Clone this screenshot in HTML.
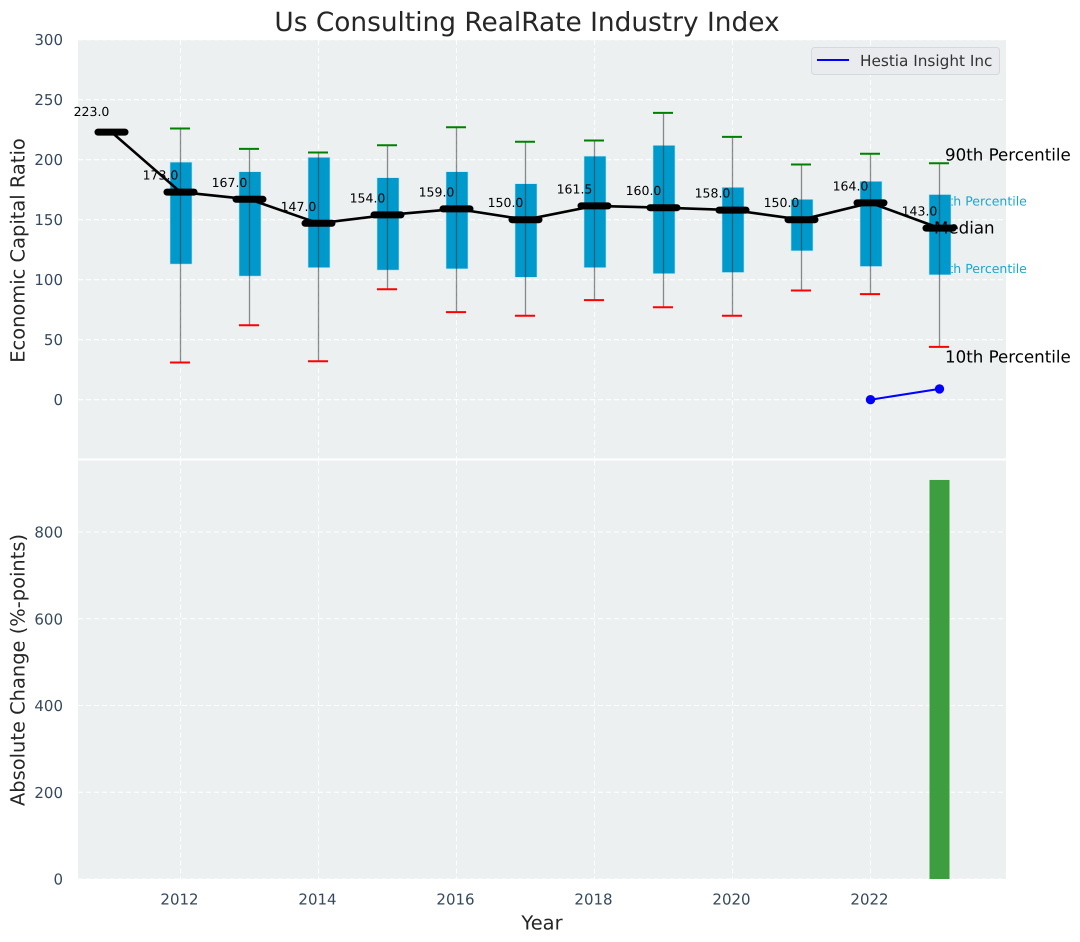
<!DOCTYPE html>
<html>
<head>
<meta charset="utf-8">
<title>Us Consulting RealRate Industry Index</title>
<style>
html,body{margin:0;padding:0;background:#fff;width:1080px;height:942px;overflow:hidden}
svg{display:block;font-family:"DejaVu Sans","Liberation Sans",sans-serif;text-rendering:geometricPrecision}
</style>
</head>
<body>
<svg id="chart" width="1080" height="942" viewBox="0 0 1080 942" xmlns="http://www.w3.org/2000/svg"></svg>
<script>
const boxYears = [2012,2013,2014,2015,2016,2017,2018,2019,2020,2021,2022,2023];
const p90 = [226,209,206,212,227,215,216,239,219,196,205,197];
const p75 = [198,190,202,185,190,180,203,212,177,167,182,171];
const p25 = [113,103,110,108,109,102,110,105,106,124,111,104];
const p10 = [31,62,32,92,73,70,83,77,70,91,88,44];
const medianYears = [2011,2012,2013,2014,2015,2016,2017,2018,2019,2020,2021,2022,2023];
const medianValues = [223,173,167,147,154,159,150,161.5,160,158,150,164,143];
const medianLabels = ["223.0","173.0","167.0","147.0","154.0","159.0","150.0","161.5","160.0","158.0","150.0","164.0","143.0"];
const hestiaYears = [2022,2023];
const hestiaValues = [0,9];
const changeYears = [2023];
const changeValues = [920];
const xTicks = [2012,2014,2016,2018,2020,2022];
const topTicks = [0,50,100,150,200,250,300];
const bottomTicks = [0,200,400,600,800];

const NS = 'http://www.w3.org/2000/svg';
const svg = document.getElementById('chart');
const PLOT_LEFT = 78, PLOT_RIGHT = 1006, TOP_Y0 = 40, TOP_Y1 = 458.5, BOT_Y0 = 460.5, BOT_Y1 = 879;
const x = v => 180.5 + (v - 2012) * 69;
const yTop = v => 399.7 - v * 1.2;
const yBot = v => 879 - v * 0.43375;

function make(tag, attrs, parent) {
  const el = document.createElementNS(NS, tag);
  for (const k in attrs) el.setAttribute(k, attrs[k]);
  (parent || svg).appendChild(el);
  return el;
}
function makeText(str, attrs, parent) {
  const el = make('text', attrs, parent);
  el.textContent = str;
  return el;
}

/* plot backgrounds */
const topBg = make('rect', {x:PLOT_LEFT, y:TOP_Y0, width:PLOT_RIGHT-PLOT_LEFT, height:TOP_Y1-TOP_Y0, fill:'#ecf0f1'});


const botBg = make('rect', {x:PLOT_LEFT, y:BOT_Y0, width:PLOT_RIGHT-PLOT_LEFT, height:BOT_Y1-BOT_Y0, fill:'#ecf0f1'});



/* gridlines */
const gridStyle = {stroke:'#ffffff', 'stroke-width':1.1, 'stroke-dasharray':'5 3', fill:'none'};
topTicks.forEach(t => {
  const g = make('line', Object.assign({x1:PLOT_LEFT, x2:PLOT_RIGHT, y1:yTop(t), y2:yTop(t)}, gridStyle));
  
  
});
bottomTicks.forEach(t => {
  const g = make('line', Object.assign({x1:PLOT_LEFT, x2:PLOT_RIGHT, y1:yBot(t), y2:yBot(t)}, gridStyle));
  
  
});
xTicks.forEach(t => {
  const g1 = make('line', Object.assign({x1:x(t), x2:x(t), y1:TOP_Y0, y2:TOP_Y1}, gridStyle));
  
  
  const g2 = make('line', Object.assign({x1:x(t), x2:x(t), y1:BOT_Y0, y2:BOT_Y1}, gridStyle));
  
  
});

/* percentile annotations that sit behind the boxes */
const lastYear = boxYears.length - 1;
const p75Label = makeText('75th Percentile', {x:x(boxYears[lastYear])-7, y:yTop(p75[lastYear])+11, 'font-size':12.5, fill:'#1aa6d0'});


const p25Label = makeText('25th Percentile', {x:x(boxYears[lastYear])-7, y:yTop(p25[lastYear])-2, 'font-size':12.5, fill:'#1aa6d0'});



/* boxes and whiskers */
boxYears.forEach((yr, i) => {
  const b = make('rect', {x:x(yr)-10.5, y:yTop(p75[i]), width:22, height:yTop(p25[i])-yTop(p75[i]), fill:'#0099cc', stroke:'#bfe6f2', 'stroke-width':0.6});
  
  
  const w = make('line', {x1:x(yr), x2:x(yr), y1:yTop(p90[i]), y2:yTop(p10[i]), stroke:'#333333', 'stroke-opacity':0.55, 'stroke-width':1.3});
  
  
  const hi = make('line', {x1:x(yr)-10.5, x2:x(yr)+9.5, y1:yTop(p90[i]), y2:yTop(p90[i]), stroke:'#008000', 'stroke-width':2});
  
  
  const lo = make('line', {x1:x(yr)-10.5, x2:x(yr)+9.5, y1:yTop(p10[i]), y2:yTop(p10[i]), stroke:'#ff0000', 'stroke-width':2});
  
  
});

/* median line */
const medLine = make('polyline', {points:medianYears.map((yr,i)=>x(yr)+','+yTop(medianValues[i])).join(' '), fill:'none', stroke:'#000000', 'stroke-width':2.6, 'stroke-linejoin':'round'});


medianYears.forEach((yr, i) => {
  const m = make('line', {x1:x(yr)-13.5, x2:x(yr)+13.5, y1:yTop(medianValues[i]), y2:yTop(medianValues[i]), stroke:'#000000', 'stroke-width':7, 'stroke-linecap':'round'});
  
  
  const t = makeText(medianLabels[i], {x:x(yr)-20, y:yTop(medianValues[i])-(i===0?16:12.5), 'font-size':12.5, fill:'#000000', 'text-anchor':'middle'});
  
  
});

/* Hestia Insight series */
const hLine = make('polyline', {points:hestiaYears.map((yr,i)=>x(yr)+','+yTop(hestiaValues[i])).join(' '), fill:'none', stroke:'#0000ff', 'stroke-width':2});


hestiaYears.forEach((yr, i) => {
  const c = make('circle', {cx:x(yr), cy:yTop(hestiaValues[i]), r:4.7, fill:'#0000ff'});
  
  
});

/* Large percentile annotations */
const p90Label = makeText('90th Percentile', {x:945, y:yTop(p90[lastYear])-3, 'font-size':16.67, fill:'#000000'});


const p10Label = makeText('10th Percentile', {x:945, y:yTop(p10[lastYear])+15.5, 'font-size':16.67, fill:'#000000'});


const medLabel = makeText('Median', {x:934, y:yTop(medianValues[medianValues.length-1])+5.5, 'font-size':16.67, fill:'#000000'});



/* change bars */
changeYears.forEach((yr, i) => {
  const b = make('rect', {x:x(yr)-10, y:yBot(changeValues[i]), width:20, height:yBot(0)-yBot(changeValues[i]), fill:'#3d9e3f'});
  
  
});

/* tick labels */
const tickColor = '#34495e';
topTicks.forEach(t => {
  const l = makeText(String(t), {x:63, y:yTop(t)+5.5, 'font-size':15, fill:tickColor, 'text-anchor':'end'});
  
  
});
bottomTicks.forEach(t => {
  const l = makeText(String(t), {x:63, y:yBot(t)+5.5, 'font-size':15, fill:tickColor, 'text-anchor':'end'});
  
  
});
xTicks.forEach(t => {
  const l = makeText(String(t), {x:x(t)-1, y:904.5, 'font-size':15, fill:tickColor, 'text-anchor':'middle'});
  
  
});

/* titles */
const title = makeText('Us Consulting RealRate Industry Index', {x:527, y:31, 'font-size':26.39, fill:'#262626', 'text-anchor':'middle'});


const xTitle = makeText('Year', {x:542, y:929.5, 'font-size':19.44, fill:'#262626', 'text-anchor':'middle'});


const yTitleTop = makeText('Economic Capital Ratio', {x:0, y:0, 'font-size':19.44, fill:'#262626', 'text-anchor':'middle', transform:'translate(24.5 250.5) rotate(-90)'});


const yTitleBot = makeText('Absolute Change (%-points)', {x:0, y:0, 'font-size':19.44, fill:'#262626', 'text-anchor':'middle', transform:'translate(24.5 670) rotate(-90)'});



/* legend */
const legendBox = make('rect', {x:811.5, y:47.5, width:188, height:27, rx:3, fill:'#e9ebef', stroke:'#d6d9dc', 'stroke-width':1});


const legendLine = make('line', {x1:817, x2:849, y1:60, y2:60, stroke:'#0000ff', 'stroke-width':2});


const legendText = makeText('Hestia Insight Inc', {x:860, y:66, 'font-size':15.28, fill:'#333333'});


</script>
</body>
</html>
